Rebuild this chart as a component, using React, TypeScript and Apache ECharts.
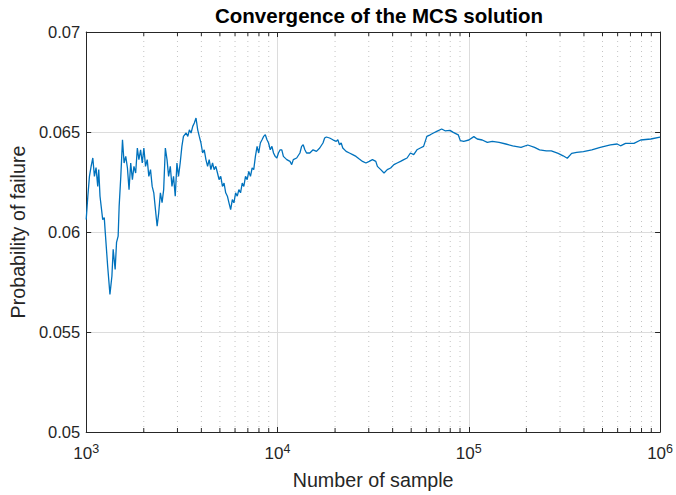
import React, { useEffect, useRef } from "react";
import * as echarts from "echarts";

// Number of samples (x) and estimated probability of failure (y)
const samples = [
  1000, 1020, 1040, 1061, 1083, 1104, 1126, 1149, 1163, 1181, 1220, 1243, 1258, 1295, 1331, 1363,
  1384, 1417, 1441, 1469, 1487, 1517, 1548, 1578, 1610, 1643, 1675, 1709, 1744, 1777, 1814, 1851,
  1886, 1925, 1964, 2002, 2043, 2085, 2125, 2169, 2213, 2256, 2302, 2349, 2394, 2443, 2493, 2541,
  2593, 2646, 2697, 2752, 2808, 2862, 2921, 2981, 3038, 3100, 3164, 3224,
  3330, 3398, 3463, 3534, 3606, 3676, 3751, 3828, 3901, 3981, 4063, 4141, 4226, 4312, 4395, 4485,
  4577, 4665, 4760, 4857, 4951, 5052, 5156, 5255, 5362, 5472, 5577, 5691, 5808, 5920, 6041, 6164,
  6283, 6411, 6543, 6669, 6805, 6944, 7078, 7223, 7371, 7513, 7666, 7823, 7974, 8137, 8303, 8463,
  8636, 8813, 8982, 9166, 9354, 9534, 9726, 9925, 10116, 10323,
  10534, 10736, 11181, 11630, 11868, 12096, 12596, 13101, 13369, 13626, 13905, 14189, 14758, 15349,
  15983, 16624, 17290, 17644, 18005, 18729, 19480, 20285, 20675, 21098, 21530, 21944, 22850, 23766,
  24718, 25740, 26770, 27844, 28996, 30158, 31363, 32658, 33286, 34662, 36052, 37496, 39044, 40610,
  42238, 43984, 45744, 47576, 49541, 51529, 53593, 55808, 58044, 60371, 62865, 65385, 68004, 72175,
  75163, 79768, 82966, 88093,
  90320, 94170, 100050, 106300, 110700, 117600, 125000, 132800, 144100, 156200, 169600, 187600,
  203400, 220700, 234500, 254200, 270100, 293300, 311300, 327300, 344900, 366500, 397200, 439700,
  486600, 550100, 596600, 621200, 659900, 730200, 791900, 894300, 1000000,
];

const pf = [
  0.06062, 0.06179, 0.06278, 0.06328, 0.0637, 0.06278, 0.06322, 0.06228, 0.06312, 0.06179, 0.06062,
  0.06072, 0.05998, 0.05829, 0.05688, 0.0578, 0.05913, 0.05813, 0.05948, 0.05979, 0.06129, 0.06278,
  0.06461, 0.06345, 0.06378, 0.0632, 0.06212, 0.06345, 0.06262, 0.06328, 0.06295, 0.0642, 0.06362,
  0.06411, 0.06345, 0.0642, 0.06328, 0.06362, 0.06278, 0.06312, 0.06228, 0.06196, 0.06112, 0.06029,
  0.06096, 0.06196, 0.06147, 0.06212, 0.0642, 0.06362, 0.06278, 0.06328, 0.06228, 0.06278, 0.06179,
  0.06345, 0.06278, 0.06345, 0.06428, 0.06478,
  0.06495, 0.06478, 0.06511, 0.06495, 0.06528, 0.06545, 0.0657, 0.06511, 0.06478, 0.06445, 0.06395,
  0.06411, 0.06362, 0.06328, 0.06362, 0.06312, 0.06345, 0.06312, 0.06328, 0.06295, 0.06262, 0.06278,
  0.06228, 0.06245, 0.06196, 0.06179, 0.06146, 0.06112, 0.06162, 0.06146, 0.06196, 0.06179, 0.06212,
  0.06196, 0.06245, 0.06228, 0.06278, 0.06262, 0.06303, 0.06278, 0.0632, 0.06312, 0.06378, 0.06428,
  0.06395, 0.06445, 0.06461, 0.06478, 0.06486, 0.06461, 0.06445, 0.06411, 0.06428, 0.06395, 0.06378,
  0.0637, 0.06395, 0.06411,
  0.06411, 0.06378, 0.06362, 0.06353, 0.06337, 0.06362, 0.0637, 0.06395, 0.06428, 0.06436, 0.06411,
  0.06395, 0.06395, 0.06411, 0.06403, 0.0642, 0.06445, 0.0647, 0.06475, 0.0647, 0.06461, 0.06453,
  0.06461, 0.06436, 0.06445, 0.0642, 0.06403, 0.06395, 0.06387, 0.06378, 0.06365, 0.06353, 0.06345,
  0.06353, 0.06362, 0.06353, 0.06328, 0.06312, 0.06295, 0.06312, 0.0632, 0.06337, 0.06345, 0.06353,
  0.06362, 0.0637, 0.06395, 0.06387, 0.06411, 0.0642, 0.06428, 0.06478, 0.06486, 0.06495, 0.06503,
  0.06515, 0.06506, 0.06508, 0.06498, 0.06486,
  0.06457, 0.06453, 0.0646, 0.06477, 0.06465, 0.0646, 0.06448, 0.06453, 0.06448, 0.0644, 0.06431,
  0.06423, 0.06435, 0.06423, 0.06411, 0.06406, 0.06406, 0.06393, 0.06381, 0.06369, 0.06393, 0.06398,
  0.06402, 0.06411, 0.06423, 0.06436, 0.0644, 0.06431, 0.06443, 0.06443, 0.0646, 0.06465, 0.06474,
];

const minorTicks = [
  2000, 3000, 4000, 5000, 6000, 7000, 8000, 9000,
  20000, 30000, 40000, 50000, 60000, 70000, 80000, 90000,
  200000, 300000, 400000, 500000, 600000, 700000, 800000, 900000,
];

const xMin = 1000;
const xMax = 1000000;
const yMin = 0.05;
const yMax = 0.07;
const yStep = 0.005;

const TXT = "#262626";
const FONT = "'Liberation Sans', Arial, Helvetica, sans-serif";

export default function App() {
  const ref = useRef<HTMLDivElement>(null);

  useEffect(() => {
    if (!ref.current) return;
    const chart = echarts.init(ref.current, undefined, { renderer: "svg" });

    const lineData = samples.map((s, i) => [s, pf[i]]);

    const xLabelFmt = (v: number) => {
      const e = Math.round(Math.log10(v));
      return `{b|10}{e|${e}}`;
    };

    const baseX = {
      type: "log" as const,
      logBase: 10,
      min: xMin,
      max: xMax,
      axisLine: { show: true, lineStyle: { color: TXT, width: 1 } },
      axisTick: { show: true, inside: true, length: 5, lineStyle: { color: TXT } },
    };
    const baseY = {
      type: "value" as const,
      min: yMin,
      max: yMax,
      interval: yStep,
      axisLine: { show: true, lineStyle: { color: TXT, width: 1 } },
      axisTick: { show: true, inside: true, length: 5, lineStyle: { color: TXT } },
    };

    chart.setOption({
      animation: false,
      textStyle: { fontFamily: FONT },
      title: {
        text: "Convergence of the MCS solution",
        left: 374,
        textAlign: "center",
        top: 0,
        textStyle: { fontSize: 20.5, fontWeight: "bold", color: "#000", fontFamily: FONT },
      },
      grid: { left: 84, right: 12, top: 32, bottom: 62, containLabel: false },
      xAxis: [
        {
          ...baseX,
          position: "bottom",
          name: "Number of sample",
          nameLocation: "middle",
          nameGap: 38,
          nameTextStyle: { fontSize: 19.7, color: TXT, fontFamily: FONT },
          axisLabel: {
            margin: 10,
            formatter: xLabelFmt,
            rich: {
              b: { fontSize: 17, color: TXT, fontFamily: FONT },
              e: { fontSize: 12.5, color: TXT, fontFamily: FONT, padding: [0, 0, 10, 0] },
            },
          },
          splitLine: { show: true, lineStyle: { color: "#dcdcdc", width: 1 } },
        },
        {
          ...baseX,
          position: "top",
          axisLabel: { show: false },
          splitLine: { show: false },
        },
      ],
      yAxis: [
        {
          ...baseY,
          position: "left",
          name: "Probability of failure",
          nameLocation: "middle",
          nameGap: 58,
          nameTextStyle: { fontSize: 19.7, color: TXT, fontFamily: FONT },
          axisLabel: { margin: 6, fontSize: 16.5, color: TXT, fontFamily: FONT },
          splitLine: { show: true, lineStyle: { color: "#dcdcdc", width: 1 } },
        },
        {
          ...baseY,
          position: "right",
          axisLabel: { show: false },
          splitLine: { show: false },
        },
      ],
      series: [
        {
          type: "custom",
          xAxisIndex: 0,
          yAxisIndex: 0,
          silent: true,
          z: 1,
          data: minorTicks.map((v) => [v]),
          encode: { x: 0 },
          renderItem: (_params: any, api: any) => {
            const x = api.value(0);
            const b = api.coord([x, yMin]);
            const t = api.coord([x, yMax]);
            return {
              type: "group",
              children: [
                {
                  type: "line",
                  shape: { x1: b[0], y1: b[1], x2: t[0], y2: t[1] },
                  style: { stroke: "#c4c4c4", lineWidth: 1, lineDash: [1, 4] },
                },
                {
                  type: "line",
                  shape: { x1: b[0], y1: b[1], x2: b[0], y2: b[1] - 4 },
                  style: { stroke: TXT, lineWidth: 1 },
                },
                {
                  type: "line",
                  shape: { x1: t[0], y1: t[1], x2: t[0], y2: t[1] + 4 },
                  style: { stroke: TXT, lineWidth: 1 },
                },
              ],
            };
          },
        },
        {
          type: "line",
          xAxisIndex: 0,
          yAxisIndex: 0,
          data: lineData,
          showSymbol: false,
          symbol: "none",
          z: 3,
          lineStyle: { color: "#0072BD", width: 1.3 },
        },
      ],
    });

    return () => chart.dispose();
  }, []);

  return <div ref={ref} style={{ width: 676, height: 495, position: "absolute", left: 0, top: 0 }} />;
}
